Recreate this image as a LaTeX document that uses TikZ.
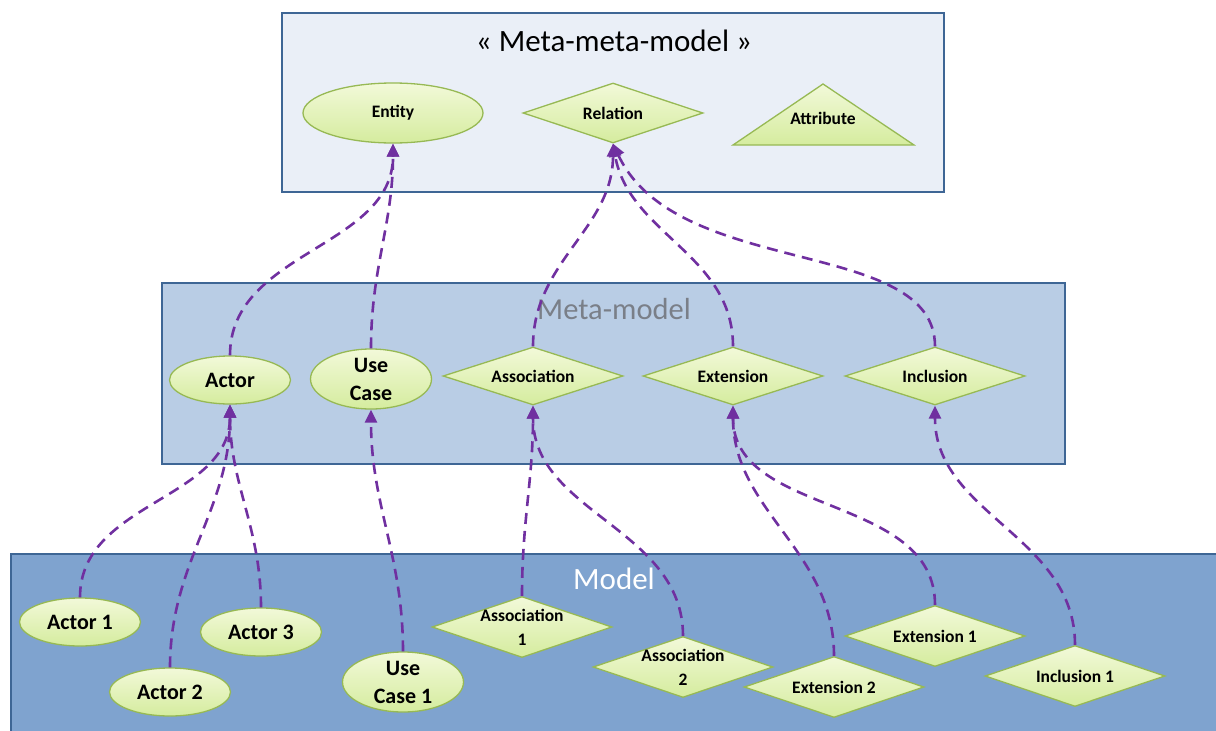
\documentclass[tikz,border=0pt]{standalone}
\usepackage{fontspec}
\setmainfont{Carlito}
\usetikzlibrary{shapes.geometric,arrows.meta}
\definecolor{boxedge}{HTML}{3E6695}
\definecolor{topfill}{HTML}{EAEFF7}
\definecolor{midfill}{HTML}{B9CDE5}
\definecolor{lowfill}{HTML}{7FA3CF}
\definecolor{gedge}{HTML}{97B954}
\definecolor{gtop}{HTML}{F2F9D9}
\definecolor{gbot}{HTML}{D5EC9E}
\definecolor{linkc}{HTML}{7030A0}
\definecolor{midtext}{HTML}{7A7F88}
\begin{document}
\begin{tikzpicture}[x=1pt,y=1pt,
  layer/.style={draw=boxedge,line width=2.5pt},
  gnode/.style={draw=gedge,line width=1.3pt,top color=gtop,bottom color=gbot,
    inner sep=0pt,align=center,font=\bfseries\fontsize{17.5}{24}\selectfont},
  big/.style={font=\bfseries\fontsize{22}{28}\selectfont},
  ell/.style={gnode,ellipse,minimum width=121pt,minimum height=48pt},
  dia/.style={gnode,diamond,minimum width=180pt,minimum height=60pt},
  dtext/.style={inner sep=0pt,align=center,font=\bfseries\fontsize{17.5}{24}\selectfont},
  link/.style={draw=linkc,line width=2.6pt,dash pattern=on 11pt off 7pt,
    -{Triangle[length=13pt,width=12pt]}}]
\useasboundingbox (0,0) rectangle (1216,-731);
\clip (0,0) rectangle (1216,-731);

% the three layers
\path[layer,fill=topfill] (282,-13) rectangle (944,-192);
\path[layer,fill=midfill] (162,-283) rectangle (1065,-464);
\path[layer,fill=lowfill] (11,-554) rectangle (1240,-760);

\node (ttop) at (614,-41) {\fontsize{31}{36}\selectfont « Meta-meta-model »};
\node[text=midtext] (tmid) at (614,-309) {\fontsize{30.5}{34}\selectfont Meta-model};
\node[text=white] (tlow) at (614,-579) {\fontsize{31}{34}\selectfont Model};

% meta-meta-model
\node[ell,minimum width=180pt,minimum height=60pt] (entity) at (393,-113) {Entity};
\node[dia] (relation) at (613,-113) {};
\node[dtext] (relation-t) at (relation) {Relation};
\path[draw=gedge,line width=1.3pt,top color=gtop,bottom color=gbot]
  (733,-145) -- (823,-84) -- (914,-145) -- cycle;
\node[dtext] (attribute) at (823,-118) {Attribute};

% meta-model
\node[ell,big] (actor) at (230,-380) {Actor};
\node[ell,big] (usecase) at (371,-379) {Use\\Case};
\node[dia,minimum height=58pt] (assoc) at (533,-376) {};
\node[dtext] (assoc-t) at (assoc) {Association};
\node[dia,minimum height=58pt] (ext) at (733,-376) {};
\node[dtext] (ext-t) at (ext) {Extension};
\node[dia,minimum height=58pt] (incl) at (935,-376) {};
\node[dtext] (incl-t) at (incl) {Inclusion};

% model
\node[ell,big] (actor1) at (80,-622) {Actor 1};
\node[ell,big] (actor2) at (170,-692) {Actor 2};
\node[ell,big] (actor3) at (261,-632) {Actor 3};
\node[ell,big,minimum height=50pt] (uc1) at (403,-682) {Use\\Case 1};
\node[dia,minimum height=61pt] (assoc1) at (522,-627) {};
\node[dtext] (assoc1-t) at (assoc1) {Association\\1};
\node[dia,minimum height=61pt] (assoc2) at (683,-667) {};
\node[dtext] (assoc2-t) at (assoc2) {Association\\2};
\node[dia,minimum height=61pt] (ext1) at (935,-636) {};
\node[dtext] (ext1-t) at (ext1) {Extension 1};
\node[dia,minimum height=61pt] (ext2) at (834,-687) {};
\node[dtext] (ext2-t) at (ext2) {Extension 2};
\node[dia,minimum height=61pt] (incl1) at (1075,-676) {};
\node[dtext] (incl1-t) at (incl1) {Inclusion 1};

% instance-of links, model -> meta-model
\draw[link] (actor1.north) to[out=90,in=-90] (actor.south);
\draw[link] (actor2.north) to[out=90,in=-90] (actor.south);
\draw[link] (actor3.north) to[out=90,in=-90] (actor.south);
\draw[link] (uc1.north) to[out=90,in=-90] (usecase.south);
\draw[link] (assoc1.north) to[out=90,in=-90] (assoc.south);
\draw[link] (assoc2.north) to[out=90,in=-90] (assoc.south);
\draw[link] (ext2.north) to[out=90,in=-90] (ext.south);
\draw[link] (ext1.north) to[out=90,in=-90] (ext.south);
\draw[link] (incl1.north) to[out=90,in=-90] (incl.south);

% instance-of links, meta-model -> meta-meta-model
\draw[link] (actor.north) to[out=90,in=-90] (entity.south);
\draw[link] (usecase.north) to[out=90,in=-90] (entity.south);
\draw[link] (assoc.north) to[out=90,in=-90] (relation.south);
\draw[link] (ext.north) to[out=90,in=-80] (relation.south);
\draw[link] (incl.north) to[out=90,in=-65,out distance=110pt,in distance=150pt] (relation.south);
\end{tikzpicture}
\end{document}
